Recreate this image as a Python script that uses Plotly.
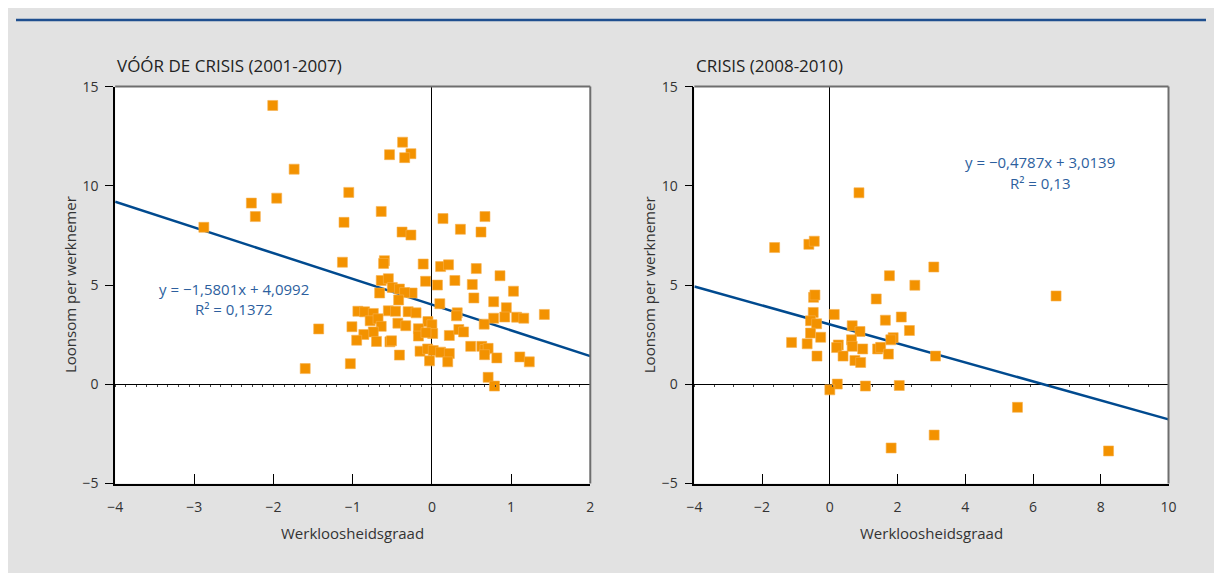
import plotly.graph_objects as go

# ---------------- data ----------------
pre_x = [-2.01, -0.37, -0.535, -0.265, -0.344, -1.74, -1.05, -2.28, -1.96, -2.23,
         -2.88, -0.64, -1.11, -0.377, -0.265, 0.14, 0.36, 0.67, 0.62, -1.13,
         -0.60, -0.61, -0.11, 0.11, 0.21, 0.56, 0.86, -0.08, 0.07, 0.29,
         0.51, -0.64, -0.55, -0.5, -0.41, -0.66, -0.25, -0.345, 0.53, 1.03,
         0.78, -0.42, 0.1, 0.94, -0.935, -0.85, -0.74, -0.55, -0.46, -0.3,
         -0.2, 0.32, 0.31, 0.92, 0.78, 1.07, 1.16, 1.42, 0.66, -0.78,
         -0.68, -0.64, -1.01, -0.43, -0.33, -0.05, 0.0, -0.17, 0.01, -0.17,
         -0.075, 0.22, 0.34, 0.4, -0.74, -0.86, -1.43, -0.95, -0.7, -0.53,
         -0.51, 0.49, 0.63, 0.67, 0.71, 0.665, 0.82, 1.11, 1.23, -0.15,
         -0.054, 0.017, 0.11, 0.22, -0.41, -0.03, 0.2, -1.03, -1.6, 0.71,
         0.79]
pre_y = [14.05, 12.2, 11.57, 11.62, 11.42, 10.84, 9.67, 9.13, 9.38, 8.45,
         7.91, 8.71, 8.16, 7.67, 7.52, 8.35, 7.81, 8.45, 7.67, 6.15,
         6.23, 6.09, 6.06, 5.93, 6.02, 5.83, 5.47, 5.19, 5.0, 5.23,
         5.03, 5.23, 5.32, 4.88, 4.8, 4.6, 4.6, 4.62, 4.35, 4.69,
         4.16, 4.25, 4.06, 3.86, 3.68, 3.65, 3.57, 3.7, 3.68, 3.66,
         3.6, 3.6, 3.45, 3.39, 3.33, 3.38, 3.33, 3.52, 3.03, 3.2,
         3.3, 2.92, 2.9, 3.08, 2.95, 3.16, 3.0, 2.8, 2.56, 2.43,
         2.6, 2.46, 2.76, 2.64, 2.64, 2.51, 2.79, 2.22, 2.16, 2.14,
         2.19, 1.91, 1.91, 1.75, 1.81, 1.49, 1.33, 1.38, 1.13, 1.67,
         1.78, 1.7, 1.62, 1.55, 1.47, 1.18, 1.13, 1.04, 0.79, 0.35,
         -0.09]

crisis_x = [0.86, -1.63, -0.62, -0.46, 3.07, 1.76, 2.51, 6.68, -0.48, -0.44,
            1.37, -0.49, 0.13, -0.57, -0.39, 1.64, 2.11, 0.66, 0.89, 2.35,
            -0.57, -0.27, -1.13, -0.67, 0.25, 0.2, 0.64, 0.66, 0.97, 1.41,
            1.5, 1.87, 1.8, 1.73, 3.12, -0.38, 0.39, 0.74, 0.91, 0.22,
            0.0, 1.05, 2.05, 5.54, 3.08, 1.81, 8.23]
crisis_y = [9.65, 6.89, 7.05, 7.21, 5.91, 5.47, 4.99, 4.45, 4.38, 4.5,
            4.3, 3.62, 3.52, 3.2, 3.05, 3.23, 3.39, 2.95, 2.66, 2.71,
            2.58, 2.37, 2.11, 2.04, 1.98, 1.85, 2.24, 1.91, 1.78, 1.78,
            1.86, 2.35, 2.24, 1.52, 1.42, 1.42, 1.42, 1.2, 1.1, 0.01,
            -0.28, -0.09, -0.06, -1.16, -2.56, -3.21, -3.36]

# trend lines as drawn in the chart (end points)
pre_fit_x = [-4, 2]
pre_fit_y = [9.2, 1.42]
crisis_fit_x = [-4, 10]
crisis_fit_y = [4.93, -1.77]

titles = ["VÓÓR DE CRISIS (2001-2007)", "CRISIS (2008-2010)"]
eq_texts = [["y = −1,5801x + 4,0992", "R² = 0,1372"],
            ["y = −0,4787x + 3,0139", "R² = 0,13"]]
x_title = "Werkloosheidsgraad"
y_title = "Loonsom per werknemer"

# ---------------- style ----------------
PAGE_MARGIN = 8            # default body margin of the html page
W, H = 1222 - 2 * PAGE_MARGIN, 581 - 2 * PAGE_MARGIN
FONT = "Open Sans"
ORANGE = "#f39200"
LINEBLUE = "#004a8f"
TEXTBLUE = "#2d5f9e"
BG = "#e2e2e2"
TXT = "#333333"

def px_x(p):
    return (p - PAGE_MARGIN) / W

def px_y(p):
    return 1 - (p - PAGE_MARGIN) / H

L_dom = [px_x(108.5), px_x(590)]
R_dom = [px_x(695.5), px_x(1176)]
Y_dom = [px_y(489.7), px_y(79)]
y0_pos = Y_dom[0] + (Y_dom[1] - Y_dom[0]) * 0.25

fig = go.Figure()

fig.add_trace(go.Scatter(x=pre_fit_x, y=pre_fit_y, mode="lines",
                         line=dict(color=LINEBLUE, width=2.5),
                         xaxis="x", yaxis="y", hoverinfo="skip"))
fig.add_trace(go.Scatter(x=pre_x, y=pre_y, mode="markers",
                         marker=dict(symbol="square", size=10, color=ORANGE,
                                     line=dict(width=0.6, color="#f7b04d")),
                         xaxis="x", yaxis="y"))
fig.add_trace(go.Scatter(x=crisis_fit_x, y=crisis_fit_y, mode="lines",
                         line=dict(color=LINEBLUE, width=2.5),
                         xaxis="x2", yaxis="y2", hoverinfo="skip"))
fig.add_trace(go.Scatter(x=crisis_x, y=crisis_y, mode="markers",
                         marker=dict(symbol="square", size=10, color=ORANGE,
                                     line=dict(width=0.6, color="#f7b04d")),
                         xaxis="x2", yaxis="y2"))
# invisible traces for the small ticks along the zero lines
fig.add_trace(go.Scatter(x=[-4], y=[0], mode="markers", marker=dict(opacity=0),
                         xaxis="x3", yaxis="y", hoverinfo="skip"))
fig.add_trace(go.Scatter(x=[-4], y=[0], mode="markers", marker=dict(opacity=0),
                         xaxis="x4", yaxis="y2", hoverinfo="skip"))

tickfont = dict(family=FONT, size=14, color=TXT)
xcommon = dict(showgrid=False, showline=True, linecolor="black", linewidth=1.5,
               ticks="inside", ticklen=10, tickcolor="black", tickwidth=1.3,
               zeroline=True, zerolinecolor="black", zerolinewidth=1.3,
               tickfont=tickfont, ticklabelstandoff=10, fixedrange=True)
ycommon = dict(showgrid=False, showline=True, linecolor="black", linewidth=1.5,
               ticks="outside", ticklen=8, tickcolor="black", tickwidth=1.3,
               zeroline=True, zerolinecolor="black", zerolinewidth=1.3,
               tickfont=tickfont, ticklabelstandoff=4, domain=Y_dom,
               range=[-5, 15], tick0=0, dtick=5, fixedrange=True)
minor_common = dict(anchor="free", position=y0_pos, showline=False, showgrid=False,
                    zeroline=False, ticks="outside", ticklen=2, tickcolor="#444",
                    tickwidth=1, showticklabels=False, fixedrange=True)

fig.update_layout(
    width=W, height=H,
    margin=dict(l=0, r=0, t=0, b=0),
    paper_bgcolor=BG, plot_bgcolor="white",
    showlegend=False,
    xaxis=dict(domain=L_dom, anchor="y", range=[-4, 2], tick0=0, dtick=1, **xcommon),
    yaxis=dict(anchor="x", **ycommon),
    xaxis2=dict(domain=R_dom, anchor="y2", range=[-4, 10], tick0=0, dtick=2, **xcommon),
    yaxis2=dict(anchor="x2", **ycommon),
    xaxis3=dict(overlaying="x", range=[-4, 2], tick0=-4, dtick=2 / 15, **minor_common),
    xaxis4=dict(overlaying="x2", range=[-4, 10], tick0=-4, dtick=14 / 24, **minor_common),
)

shapes = [
    # blue rule at the top
    dict(type="line", xref="paper", yref="paper", x0=0, x1=1,
         y0=px_y(10), y1=px_y(10), line=dict(color="#1f4f8f", width=2.5)),
]
for xr, yr in [("x domain", "y domain"), ("x2 domain", "y2 domain")]:
    shapes.append(dict(type="line", xref=xr, yref=yr, x0=0, x1=1, y0=1, y1=1,
                       line=dict(color="#6e6e6e", width=2)))
    shapes.append(dict(type="line", xref=xr, yref=yr, x0=1, x1=1, y0=0, y1=1,
                       line=dict(color="#6e6e6e", width=2)))
fig.update_layout(shapes=shapes)

ann = []
# panel titles
for t, x in zip(titles, [108, 695]):
    ann.append(dict(text=t, xref="paper", yref="paper", x=px_x(x), y=px_y(57),
                    xanchor="left", yanchor="middle", showarrow=False,
                    font=dict(family=FONT, size=17, color="#222222")))
# axis titles
for cx in [349, 936]:
    ann.append(dict(text=x_title, xref="paper", yref="paper", x=px_x(cx), y=px_y(541),
                    xanchor="center", yanchor="middle", showarrow=False,
                    font=dict(family=FONT, size=15, color=TXT)))
for cx in [62, 649]:
    ann.append(dict(text=y_title, xref="paper", yref="paper", x=px_x(cx), y=px_y(284),
                    xanchor="center", yanchor="middle", showarrow=False, textangle=-90,
                    font=dict(family=FONT, size=15, color=TXT)))
# equations
for (eq, r2), cx, ys in zip(eq_texts, [229, 1046], [(288, 309), (157, 178.5)]):
    ann.append(dict(text=eq, xref="paper", yref="paper", x=px_x(cx), y=px_y(ys[0]),
                    xanchor="center", yanchor="middle", showarrow=False,
                    font=dict(family=FONT, size=15, color=TEXTBLUE)))
    ann.append(dict(text=r2, xref="paper", yref="paper", x=px_x(cx), y=px_y(ys[1]),
                    xanchor="center", yanchor="middle", showarrow=False,
                    font=dict(family=FONT, size=15, color=TEXTBLUE)))
fig.update_layout(annotations=ann)

fig.write_html("out.html", config={"displayModeBar": False})
